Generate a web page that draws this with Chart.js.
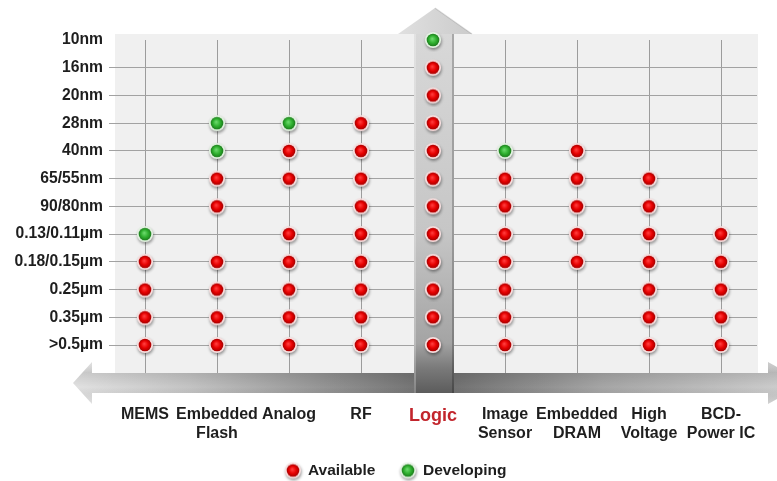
<!DOCTYPE html>
<html><head><meta charset="utf-8">
<script src="https://cdn.jsdelivr.net/npm/chart.js@4/dist/chart.umd.min.js"></script>
<style>html,body{margin:0;padding:0;background:#fff;}#wrap{width:777px;height:481px;}</style>
</head><body><div id="wrap"><canvas id="c" width="777" height="481"></canvas></div>
<script>
// ---- data ----
const technologies = ['MEMS','Embedded Flash','Analog','RF','Logic','Image Sensor','Embedded DRAM','High Voltage','BCD-Power IC'];
const techTickLines = [['MEMS'],['Embedded','Flash'],['Analog'],['RF'],['Logic'],['Image','Sensor'],['Embedded','DRAM'],['High','Voltage'],['BCD-','Power IC']];
const nodes = ['10nm','16nm','20nm','28nm','40nm','65/55nm','90/80nm','0.13/0.11µm','0.18/0.15µm','0.25µm','0.35µm','>0.5µm'];
// status per node (top to bottom): A = Available, D = Developing, '' = none
const memsStatus   = ['','','','','','','','D','A','A','A','A'];
const flashStatus  = ['','','','D','D','A','A','','A','A','A','A'];
const analogStatus = ['','','','D','A','A','','A','A','A','A','A'];
const rfStatus     = ['','','','A','A','A','A','A','A','A','A','A'];
const logicStatus  = ['D','A','A','A','A','A','A','A','A','A','A','A'];
const imageStatus  = ['','','','','D','A','A','A','A','A','A','A'];
const dramStatus   = ['','','','','A','A','A','A','A','','',''];
const hvStatus     = ['','','','','','A','A','A','A','A','A','A'];
const bcdStatus    = ['','','','','','','','A','A','A','A','A'];
const seriesNames = ['Available','Developing'];
const seriesCodes = ['A','D'];

const statusByTech = [memsStatus,flashStatus,analogStatus,rfStatus,logicStatus,imageStatus,dramStatus,hvStatus,bcdStatus];
function pointsFor(code){
  const pts=[];
  statusByTech.forEach((col,ti)=>col.forEach((s,ni)=>{ if(s===code) pts.push({x:technologies[ti], y:nodes[ni]}); }));
  return pts;
}

// ---- dot images ----
function makeDot(core, mid, edge, ring){
  const c=document.createElement('canvas'); c.width=24; c.height=24;
  const g=c.getContext('2d');
  g.save();
  g.shadowColor='rgba(0,0,0,0.4)'; g.shadowBlur=3; g.shadowOffsetY=1.8; g.shadowOffsetX=0.6;
  g.beginPath(); g.arc(12,12,8.1,0,Math.PI*2); g.fillStyle=ring; g.fill();
  g.restore();
  const rg=g.createRadialGradient(11.2,10.8,0.4,12,12,6.4);
  rg.addColorStop(0,core); rg.addColorStop(0.55,mid); rg.addColorStop(1,edge);
  g.beginPath(); g.arc(12,12,6.3,0,Math.PI*2); g.fillStyle=rg; g.fill();
  return c;
}
const redDot = makeDot('#ff3a3a','#e60000','#a30000','#f7dede');
const greenDot = makeDot('#6ad86a','#2fb02f','#1b7a1b','#e3f1e1');
const dotImages = [redDot, greenDot];

const FONT = "'Liberation Sans', Arial, sans-serif";

const decor = {
  id:'decor',
  beforeDraw(chart){
    const {ctx, scales:{x:xs, y:ys}} = chart;
    ctx.save();
    ctx.fillStyle='#f0f0f0';
    ctx.fillRect(xs.left+6, ys.top-6, xs.right+1-(xs.left+6), ys.bottom+30-(ys.top-6));
    ctx.strokeStyle='#9c9c9c'; ctx.lineWidth=1;
    technologies.forEach((t,i)=>{
      const px=Math.round(xs.getPixelForValue(i))+0.5;
      ctx.beginPath(); ctx.moveTo(px, ys.top); ctx.lineTo(px, ys.bottom+29); ctx.stroke();
    });
    ctx.restore();
  },
  beforeDatasetsDraw(chart){
    const {ctx, scales:{x:xs, y:ys}} = chart;
    const lx = xs.getPixelForValue(4);
    const sTop = ys.bottom+28, sBot = ys.bottom+48, cy=(sTop+sBot)/2;
    const hH = 21;
    const leftTip = xs.left-36, leftBase = xs.left-17;
    const rightBase = xs.right+11, rightTip = xs.right+48;
    ctx.save();
    ctx.beginPath();
    ctx.moveTo(leftTip, cy);
    ctx.lineTo(leftBase, cy-hH); ctx.lineTo(leftBase, sTop);
    ctx.lineTo(rightBase, sTop); ctx.lineTo(rightBase, cy-hH);
    ctx.lineTo(rightTip, cy);
    ctx.lineTo(rightBase, cy+hH); ctx.lineTo(rightBase, sBot);
    ctx.lineTo(leftBase, sBot); ctx.lineTo(leftBase, cy+hH);
    ctx.closePath();
    const span = rightTip-leftTip;
    const f = x => Math.min(1, Math.max(0, (x-leftTip)/span));
    const hg = ctx.createLinearGradient(leftTip,0,rightTip,0);
    hg.addColorStop(0,'#e2e2e2');
    hg.addColorStop(f(xs.left+80),'#c4c4c4');
    hg.addColorStop(f(lx-22),'#767676');
    hg.addColorStop(f(lx+22),'#727272');
    hg.addColorStop(f(lx+170),'#a6a6a6');
    hg.addColorStop(1,'#d2d2d2');
    ctx.fillStyle=hg; ctx.fill();
    const vg = ctx.createLinearGradient(0,cy-hH,0,cy+hH);
    vg.addColorStop(0,'rgba(255,255,255,0.05)');
    vg.addColorStop(0.25,'rgba(0,0,0,0.10)');
    vg.addColorStop(0.6,'rgba(0,0,0,0)');
    vg.addColorStop(1,'rgba(255,255,255,0.18)');
    ctx.fillStyle=vg; ctx.fill();

    const shL = lx-19, shR = lx+21, headBase = ys.top-6, apexY = ys.top-32;
    const sg = ctx.createLinearGradient(0,headBase,0,sBot);
    sg.addColorStop(0,'#d8d8d8');
    sg.addColorStop(0.55,'#c6c6c6');
    sg.addColorStop(0.86,'#a4a4a4');
    sg.addColorStop(0.93,'#7a7a7a');
    sg.addColorStop(1,'#5c5c5c');
    ctx.fillStyle=sg;
    ctx.fillRect(shL, headBase, shR-shL, sBot-headBase);
    ctx.fillStyle='rgba(0,0,0,0.22)';
    ctx.fillRect(shR-2, headBase, 2, sBot-headBase);
    ctx.fillStyle='rgba(255,255,255,0.25)';
    ctx.fillRect(shL, headBase, 2, sBot-headBase);
    ctx.beginPath();
    ctx.moveTo(lx-35, headBase); ctx.lineTo(lx+2, apexY); ctx.lineTo(lx+39, headBase); ctx.closePath();
    const ag = ctx.createLinearGradient(lx-35,0,lx+39,0);
    ag.addColorStop(0,'#e0e0e0'); ag.addColorStop(1,'#cbcbcb');
    ctx.fillStyle=ag; ctx.fill();
    ctx.strokeStyle='rgba(0,0,0,0.12)'; ctx.lineWidth=1.5;
    ctx.beginPath(); ctx.moveTo(lx+2, apexY); ctx.lineTo(lx+39, headBase); ctx.stroke();
    ctx.restore();
  },
  afterDraw(chart){
    const {ctx, scales:{x:xs}} = chart;
    const ly = chart.height-10.5;
    const dotX = [xs.left+184, xs.left+299];
    ctx.save();
    ctx.font = "bold 15.5px "+FONT;
    ctx.fillStyle='#1e1e1e'; ctx.textBaseline='middle'; ctx.textAlign='left';
    seriesNames.forEach((name,i)=>{
      const img = dotImages[i];
      ctx.drawImage(img, dotX[i]-img.width/2, ly-img.height/2);
      ctx.fillText(name, dotX[i]+15, ly+0.5);
    });
    ctx.restore();
  }
};

new Chart(document.getElementById('c'), {
  type:'scatter',
  data:{
    datasets: seriesCodes.map((code,i)=>({
      label: seriesNames[i],
      data: pointsFor(code),
      pointStyle: dotImages[i],
      pointRadius: 8, pointHoverRadius: 8,
      clip: false
    }))
  },
  options:{
    responsive:false, animation:false, events:[],
    layout:{padding:{top:40, left:9, right:20, bottom:0}},
    plugins:{legend:{display:false}, tooltip:{enabled:false}},
    scales:{
      x:{
        type:'category', labels: technologies, offset:true,
        grid:{display:false, drawTicks:false}, border:{display:false},
        ticks:{
          autoSkip:false, maxRotation:0, minRotation:0, padding:60,
          callback:(v,i)=>techTickLines[i],
          color: c => c.index===4 ? '#c2252c' : '#1e1e1e',
          font: c => ({family:FONT, weight:'bold', size: c.index===4 ? 18 : 16, lineHeight: 1.2})
        },
        afterFit: s => { s.height = 136; s.paddingLeft = 0; s.paddingRight = 0; }
      },
      y:{
        type:'category', labels: nodes, offset:false,
        grid:{drawTicks:false, lineWidth:1, color: c => c.index===0 ? 'rgba(0,0,0,0)' : '#a2a2a2'},
        border:{display:false},
        ticks:{autoSkip:false, padding:6, color:'#1e1e1e', font:{family:FONT, weight:'bold', size:15.7}},
        afterFit: s => { s.width = 100; s.paddingTop = 0; s.paddingBottom = 0; }
      }
    }
  },
  plugins:[decor]
});
</script>
</body></html>
